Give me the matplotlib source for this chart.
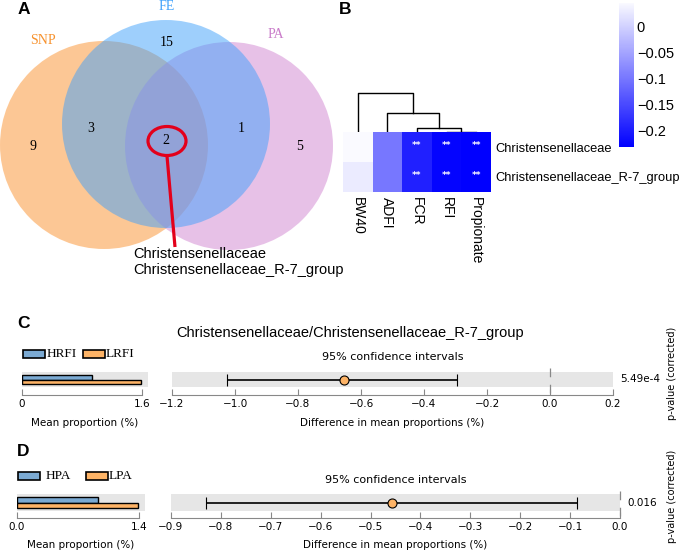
import numpy as np
import matplotlib
matplotlib.use('Agg')
import matplotlib.pyplot as plt
from matplotlib.patches import Circle, Ellipse, Rectangle
from matplotlib.colors import LinearSegmentedColormap

#%% Data

# Venn (A)
venn_sets = ['SNP', 'FE', 'PA']
venn_only = [9, 15, 5]          # SNP only, FE only, PA only
venn_snp_fe = 3
venn_fe_pa = 1
venn_all = 2
shared_taxa = ['Christensenellaceae', 'Christensenellaceae_R-7_group']

# Correlation heatmap (B)
heat_cols = ['BW40', 'ADFI', 'FCR', 'RFI', 'Propionate']
heat_vals = [[0.047, -0.098, -0.195, -0.226, -0.231],
             [0.030, -0.098, -0.195, -0.226, -0.231]]
heat_sig = [['', '', '**', '**', '**'],
            ['', '', '**', '**', '**']]
# column dendrogram: (node a, node b, merge height); leaves 0-4, merges numbered 5..
col_merges = [(3, 4, 0.6), (2, 5, 4.6), (1, 6, 19.0), (0, 7, 39.0)]

# STAMP plots (C, D)
c_title = 'Christensenellaceae/Christensenellaceae_R-7_group'
c_groups = ['HRFI', 'LRFI']
c_means = [0.93, 1.59]
c_diff, c_lo, c_hi = -0.655, -1.025, -0.296
c_p = '5.49e-4'
c_ticks = [-1.2, -1.0, -0.8, -0.6, -0.4, -0.2, 0.0, 0.2]

d_groups = ['HPA', 'LPA']
d_means = [0.93, 1.39]
d_diff, d_lo, d_hi = -0.457, -0.830, -0.086
d_p = '0.016'
d_ticks = [-0.9, -0.8, -0.7, -0.6, -0.5, -0.4, -0.3, -0.2, -0.1, 0.0]

#%% Figure setup

W, H = 685, 555
fig = plt.figure(figsize=(6.85, 5.55), dpi=100)

def pax(x0, y0, x1, y1):
    # axes placed by pixel box (top-left origin)
    return fig.add_axes([x0 / W, 1 - y1 / H, (x1 - x0) / W, (y1 - y0) / H])

ov = pax(0, 0, W, H)
ov.set_xlim(0, W)
ov.set_ylim(H, 0)
ov.axis('off')

SANS = 'Liberation Sans'
SERIF = 'Liberation Serif'
BLUE = '#7BAAD3'
ORANGE = '#FDB366'

# panel letters
for lab, x, y in [('A', 24, 9), ('B', 345, 9), ('C', 24, 324), ('D', 23, 452)]:
    ov.text(x, y, lab, fontsize=12.5, fontweight='bold', family=SANS,
            ha='center', va='center')

#%% A: Venn

circ = {'SNP': ((104, 145), '#FB912D'), 'PA': ((229, 146), '#D185D1'),
        'FE': ((166, 124), '#3FA1FB')}
for name in ['SNP', 'PA', 'FE']:
    (cx, cy), col = circ[name]
    ov.add_patch(Circle((cx, cy), 104, facecolor=col, alpha=0.5, lw=0))

lab_pos = {'SNP': (43, 40, '#F7922E'), 'FE': (167, 7, '#3FA1FB'), 'PA': (276, 35, '#C97BC9')}
for name in venn_sets:
    x, y, c = lab_pos[name]
    ov.text(x, y, name, color=c, fontsize=10, family=SERIF, ha='center', va='center')

num_pos = [(33, 146), (167, 42), (300, 146)]
for (x, y), n in zip(num_pos, venn_only):
    ov.text(x, y, str(n), fontsize=10, family=SERIF, ha='center', va='center')
ov.text(91, 129, str(venn_snp_fe), fontsize=10, family=SERIF, ha='center', va='center')
ov.text(241, 129, str(venn_fe_pa), fontsize=10, family=SERIF, ha='center', va='center')
ov.text(166, 141, str(venn_all), fontsize=10, family=SERIF, ha='center', va='center')

ov.add_patch(Ellipse((167, 141), 38, 29, facecolor='none', edgecolor='#E3001B', lw=2.3))
ov.plot([167, 175], [156, 247], color='#E3001B', lw=2.3, solid_capstyle='butt')
for i, t in enumerate(shared_taxa):
    ov.text(133, 254 + 16 * i, t, fontsize=10.5, family=SANS, ha='left', va='center')

#%% B: heatmap

cmap = LinearSegmentedColormap.from_list('bw', ['#0000FF', '#FAFAFF'])
hm = pax(343, 132.3, 491, 191.7)
im = hm.imshow(np.array(heat_vals), cmap=cmap, vmin=-0.2315, vmax=0.047, aspect='auto')
for i in range(len(heat_vals)):
    for j in range(len(heat_cols)):
        if heat_sig[i][j]:
            hm.text(j, i - 0.05, heat_sig[i][j], color='white', fontsize=6.5,
                    ha='center', va='center', fontweight='bold')
hm.set_xticks(range(len(heat_cols)))
hm.set_xticklabels(heat_cols, rotation=270, fontsize=10, family=SANS, ha='center', va='top')
hm.yaxis.tick_right()
hm.set_yticks(range(len(shared_taxa)))
hm.set_yticklabels(shared_taxa, fontsize=9.3, family=SANS)
hm.tick_params(length=0, pad=3.5)
for s in hm.spines.values():
    s.set_visible(False)

# dendrogram
dd = pax(343, 90, 491, 132.3)
dd.set_xlim(-0.5, len(heat_cols) - 0.5)
dd.set_ylim(0, 42.3)
dd.axis('off')
nodes = [(float(j), 0.0) for j in range(len(heat_cols))]
for a, b, h in col_merges:
    xa, ha_ = nodes[a]
    xb, hb = nodes[b]
    dd.plot([xa, xa, xb, xb], [ha_, h, h, hb], color='black', lw=1)
    nodes.append(((xa + xb) / 2, h))

cax = pax(619, 2.5, 634, 147)
cb = fig.colorbar(im, cax=cax)
cb.outline.set_visible(False)
cb.set_ticks([0, -0.05, -0.1, -0.15, -0.2])
cb.set_ticklabels(['0', '\u22120.05', '\u22120.1', '\u22120.15', '\u22120.2'])
cax.tick_params(length=0, labelsize=10.5, pad=2)
for t in cax.get_yticklabels():
    t.set_family(SANS)

#%% C, D: STAMP extended error bar plots

def fmt_tick(v):
    s = f'{round(v, 1) + 0.0:.1f}'
    return s.replace('-', '\u2212')

def stamp(spine_y, band, bx, blim, bticks, bticklabels, means,
          cx, clim, cticks, diff, lo, hi, pval):
    # mean proportion bars
    ax = pax(bx[0], spine_y - 30, bx[1], spine_y)
    ax.set_xlim(*blim)
    ax.set_ylim(0, 30)
    ax.axhspan(band[0], band[1], color='#E6E6E6', lw=0, zorder=0)
    mid = (band[0] + band[1]) / 2
    h = (band[1] - band[0]) * 0.31
    ax.barh([mid + h / 2, mid - h / 2], means, height=h, left=0,
            color=[BLUE, ORANGE], edgecolor='black', lw=1, zorder=2)
    for k in ['top', 'right', 'left']:
        ax.spines[k].set_visible(False)
    ax.spines['bottom'].set_color('#888888')
    ax.spines['bottom'].set_bounds(bticks[0], bticks[-1])
    ax.set_yticks([])
    ax.set_xticks(bticks)
    ax.set_xticklabels(bticklabels)
    ax.tick_params(axis='x', direction='in', length=4, color='#888888',
                   labelsize=7.5, pad=3)
    ax.set_xlabel('Mean proportion (%)', fontsize=7.5, labelpad=6)

    # difference with 95% CI
    ax2 = pax(cx[0], spine_y - 30, cx[1], spine_y)
    ax2.set_xlim(*clim)
    ax2.set_ylim(0, 30)
    ax2.axhspan(band[0], band[1], color='#E6E6E6', lw=0, zorder=0)
    ax2.plot([0, 0], [27, 1], color='#888888', lw=0.9, ls=(0, (7, 6)), zorder=1,
             clip_on=False)
    ax2.errorbar(diff, mid, xerr=[[diff - lo], [hi - diff]], fmt='o', color='black',
                 ecolor='black', elinewidth=1.2, capsize=4, capthick=1.2,
                 markersize=6.5, markerfacecolor=ORANGE, markeredgecolor='black',
                 markeredgewidth=0.8, zorder=3)
    for k in ['top', 'right', 'left']:
        ax2.spines[k].set_visible(False)
    ax2.spines['bottom'].set_color('#888888')
    ax2.set_yticks([])
    ax2.set_xticks(cticks)
    ax2.set_xticklabels([fmt_tick(v) for v in cticks])
    ax2.tick_params(axis='x', direction='in', length=4, color='#888888',
                    labelsize=7.5, pad=3)
    ax2.set_xlabel('Difference in mean proportions (%)', fontsize=7.5, labelpad=6)
    ov.text(cx[1] + 7, spine_y - mid, pval, fontsize=7.5, ha='left', va='center')
    ov.text((cx[0] + cx[1]) / 2, spine_y - 38, '95% confidence intervals',
            fontsize=8, ha='center', va='center')
    ov.text(672, spine_y - 22, 'p-value (corrected)', fontsize=7, rotation=90,
            ha='center', va='center')

def legend(y, x_boxes, x_texts, groups):
    for xb, xt, g, c in zip(x_boxes, x_texts, groups, [BLUE, ORANGE]):
        ov.add_patch(Rectangle((xb, y - 4), 22, 8, facecolor=c, edgecolor='black', lw=1.2))
        ov.text(xt, y, g, fontsize=9.5, family=SERIF, ha='left', va='center')

# C
ov.text(350, 333, c_title, fontsize=10.5, family=SANS, ha='center', va='center')
legend(354, [23, 83], [47, 106], c_groups)
stamp(395, (8, 23), (22, 148), (0, 126 / 74.8), [0, 1.6], ['0', '1.6'], c_means,
      (172, 613), (-1.2, 0.2), c_ticks, c_diff, c_lo, c_hi, c_p)

# D
legend(476, [18, 86], [46, 109], d_groups)
stamp(518, (7, 24), (17, 145), (0, (145 - 17.3) / 87.1), [0, 1.4], ['0.0', '1.4'], d_means,
      (171, 620), (-0.9, 0.0), d_ticks, d_diff, d_lo, d_hi, d_p)

fig.savefig('out.png', dpi=100)
